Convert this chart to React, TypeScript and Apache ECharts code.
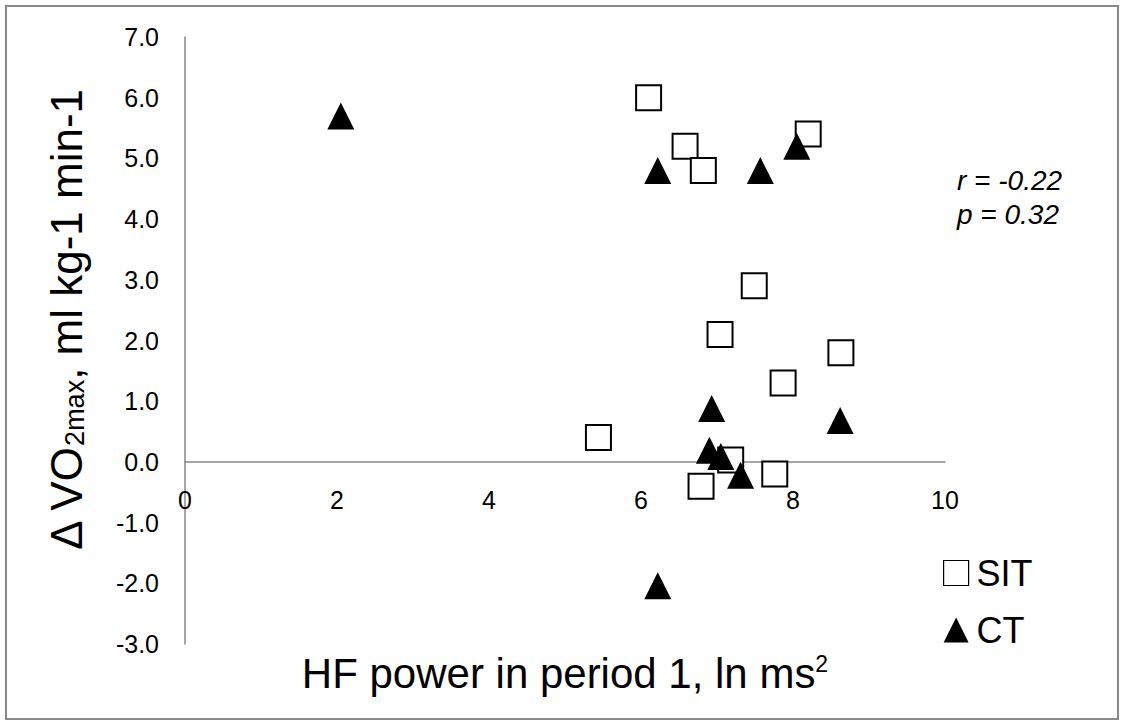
import React, { useEffect, useRef } from "react";
import * as echarts from "echarts";

// SIT group (open squares)
const sitX = [6.10, 6.58, 6.82, 8.20, 7.49, 7.04, 8.63, 7.87, 5.44, 7.18, 6.79, 7.76];
const sitY = [6.0, 5.2, 4.8, 5.4, 2.9, 2.1, 1.8, 1.3, 0.4, 0.03, -0.4, -0.2];
// CT group (filled triangles)
const ctX = [2.05, 6.22, 7.57, 8.05, 6.93, 8.62, 6.90, 7.05, 7.31, 6.22];
const ctY = [5.7, 4.8, 4.8, 5.2, 0.88, 0.68, 0.19, 0.09, -0.22, -2.04];

const seriesNames = ["SIT", "CT"];
const xTitle = "HF power in period 1, ln ms";
const statText = "r = -0.22\np = 0.32";

const FONT = "'Liberation Sans', Arial, Helvetica, sans-serif";
const AXIS_GRAY = "#898989";

export default function App() {
  const ref = useRef<HTMLDivElement>(null);

  useEffect(() => {
    if (!ref.current) return;
    const chart = echarts.init(ref.current, null, { renderer: "svg" });
    const sitData = sitX.map((x, i) => [x, sitY[i]]);
    const ctData = ctX.map((x, i) => [x, ctY[i]]);

    const tickLabel = {
      fontSize: 25,
      color: "#000",
      fontFamily: FONT,
    };

    chart.setOption({
      animation: false,
      backgroundColor: "#ffffff",
      textStyle: { fontFamily: FONT },
      grid: [
        // main plot area: y from -3 to 7
        { left: 185, top: 37, width: 760, height: 607, containLabel: false },
        // upper part (y 0..7) whose bottom edge is the zero line: carries the x tick labels
        { left: 185, top: 37, width: 760, height: 424.9, containLabel: false },
      ],
      xAxis: [
        {
          type: "value",
          gridIndex: 0,
          min: 0,
          max: 10,
          interval: 2,
          axisLine: { onZero: true, lineStyle: { color: AXIS_GRAY, width: 1.5 } },
          axisTick: { show: false },
          splitLine: { show: false },
          axisLabel: { show: false },
        },
        {
          type: "value",
          gridIndex: 1,
          min: 0,
          max: 10,
          interval: 2,
          position: "bottom",
          axisLine: { show: false },
          axisTick: { show: false },
          splitLine: { show: false },
          axisLabel: {
            ...tickLabel,
            showMinLabel: true,
            showMaxLabel: true,
            margin: 26,
            formatter: (v: number) => String(v),
          },
        },
      ],
      yAxis: [
        {
          type: "value",
          gridIndex: 0,
          min: -3,
          max: 7,
          interval: 1,
          axisLine: { show: true, onZero: false, lineStyle: { color: AXIS_GRAY, width: 1.5 } },
          axisTick: { show: false },
          splitLine: { show: false },
          axisLabel: {
            ...tickLabel,
            showMinLabel: true,
            showMaxLabel: true,
            margin: 26,
            formatter: (v: number) => v.toFixed(1),
          },
        },
        {
          type: "value",
          gridIndex: 1,
          min: 0,
          max: 7,
          show: false,
        },
      ],
      legend: {
        orient: "vertical",
        left: 943,
        top: 555,
        padding: 0,
        itemWidth: 25,
        itemHeight: 25,
        itemGap: 21,
        textStyle: { fontSize: 36, color: "#000", fontFamily: FONT, padding: [0, 0, 0, 3] },
        data: [
          { name: seriesNames[0], icon: "rect", itemStyle: { color: "#fff", borderColor: "#000", borderWidth: 1.2 } },
          { name: seriesNames[1], icon: "triangle", itemStyle: { color: "#000", borderWidth: 0 } },
        ],
      },
      series: [
        {
          name: seriesNames[0],
          type: "scatter",
          xAxisIndex: 0,
          yAxisIndex: 0,
          symbol: "rect",
          symbolSize: 25,
          itemStyle: { color: "#ffffff", borderColor: "#000000", borderWidth: 2, opacity: 1 },
          data: sitData,
          z: 2,
        },
        {
          name: seriesNames[1],
          type: "scatter",
          xAxisIndex: 0,
          yAxisIndex: 0,
          symbol: "triangle",
          symbolSize: 27,
          itemStyle: { color: "#000000", opacity: 1 },
          data: ctData,
          z: 3,
        },
      ],
      graphic: [
        {
          type: "rect",
          shape: { x: 6, y: 6, width: 1112, height: 713 },
          style: { fill: "none", stroke: AXIS_GRAY, lineWidth: 2 },
          silent: true,
        },
        {
          type: "text",
          x: 565,
          y: 673,
          style: {
            text: "{m|" + xTitle + "}{sup|2}",
            align: "center",
            verticalAlign: "middle",
            fill: "#000",
            fontFamily: FONT,
            fontSize: 42,
            rich: {
              m: { fontSize: 42, lineHeight: 42, verticalAlign: "middle", fontFamily: FONT, color: "#000" },
              sup: { fontSize: 23, lineHeight: 32, verticalAlign: "top", fontFamily: FONT, color: "#000" },
            },
          },
        },
        {
          type: "text",
          x: 66,
          y: 320,
          rotation: Math.PI / 2,
          style: {
            text: "{m|Δ VO}{sub|2max}{m|, ml kg-1 min-1}",
            align: "center",
            verticalAlign: "middle",
            fill: "#000",
            fontFamily: FONT,
            fontSize: 44,
            rich: {
              m: { fontSize: 44, lineHeight: 44, verticalAlign: "middle", fontFamily: FONT, color: "#000" },
              sub: { fontSize: 27, lineHeight: 27, padding: [46, 0, 0, 0], verticalAlign: "bottom", fontFamily: FONT, color: "#000" },
            },
          },
        },
        {
          type: "text",
          x: 957,
          y: 163,
          style: {
            text: statText,
            align: "left",
            verticalAlign: "top",
            fill: "#000",
            fontFamily: FONT,
            fontSize: 28,
            fontStyle: "italic",
            lineHeight: 34,
          },
        },
      ],
    });

    return () => chart.dispose();
  }, []);

  return (
    <div
      ref={ref}
      style={{ position: "absolute", left: 0, top: 0, width: 1125, height: 727, background: "#fff" }}
    />
  );
}
